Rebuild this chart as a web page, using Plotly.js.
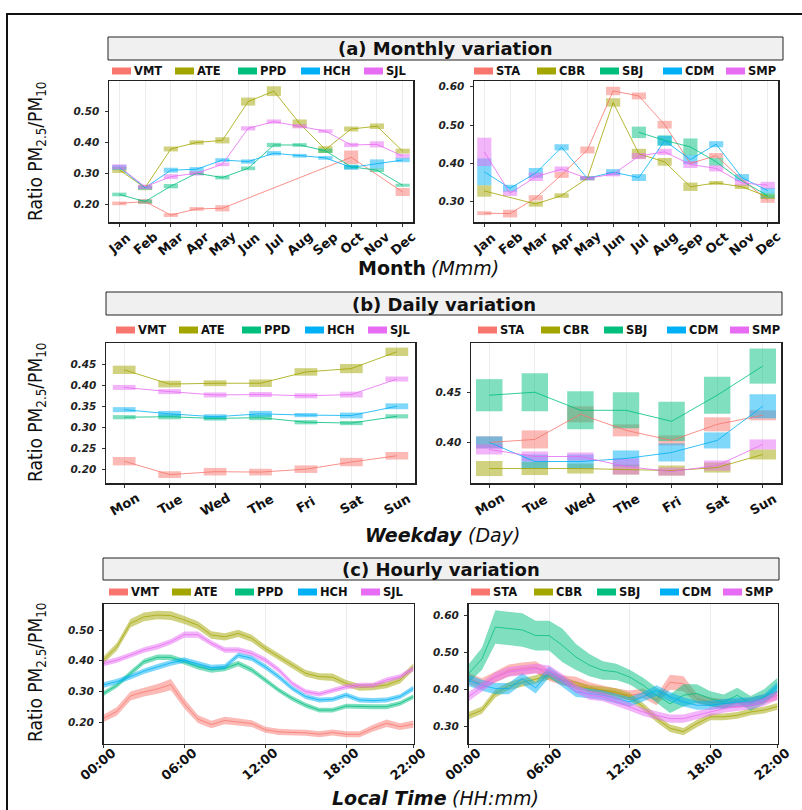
<!DOCTYPE html>
<html><head><meta charset="utf-8">
<script src="https://cdn.plot.ly/plotly-3.0.1.min.js"></script>
<style>html,body{margin:0;padding:0;background:#fff;}#chart{width:802px;height:810px;}</style>
</head><body><div id="chart"></div>
<script>
// ---------------- DATA ----------------
const months = ['Jan','Feb','Mar','Apr','May','Jun','Jul','Aug','Sep','Oct','Nov','Dec'];
const days = ['Mon','Tue','Wed','The','Fri','Sat','Sun'];
const hours = [0,1,2,3,4,5,6,7,8,9,10,11,12,13,14,15,16,17,18,19,20,21,22,23];
const hourTickVals = [0,6,12,18,23];
const hourTickText = ['00:00','06:00','12:00','18:00','22:00'];
const sitesA = ['VMT','ATE','PPD','HCH','SJL'];
const sitesB = ['STA','CBR','SBJ','CDM','SMP'];
const siteColors = ['#F8766D','#A3A500','#00BF7D','#00B0F6','#E76BF3'];

// monthly means and box half-heights
const mVMT = [0.202,0.208,0.164,0.184,0.186,null,null,null,null,0.352,null,0.239];
const eVMT = [0.006,0.008,0.006,0.006,0.010,null,null,null,null,0.022,null,0.013];
const mATE = [0.311,0.253,0.379,0.400,0.407,0.533,0.567,0.462,0.377,0.444,0.453,0.372];
const eATE = [0.010,0.008,0.008,0.007,0.010,0.013,0.016,0.013,0.011,0.008,0.009,0.008];
const mPPD = [0.231,0.208,0.258,0.300,0.286,0.316,0.392,0.392,0.373,0.321,0.310,0.261];
const ePPD = [0.006,0.006,0.007,0.006,0.006,0.006,0.007,0.006,0.007,0.007,0.006,0.005];
const mHCH = [0.319,0.253,0.310,0.313,0.343,0.338,0.365,0.357,0.350,0.319,0.330,0.343];
const eHCH = [0.008,0.006,0.008,0.007,0.006,0.007,0.007,0.006,0.006,0.008,0.015,0.007];
const mSJL = [0.321,0.256,0.289,0.300,0.329,0.446,0.468,0.453,0.437,0.392,0.394,0.356];
const eSJL = [0.008,0.007,0.008,0.007,0.006,0.007,0.007,0.007,0.006,0.007,0.010,0.007];

const mSTA = [0.270,0.269,0.310,0.370,0.435,0.589,0.576,0.501,0.400,0.420,0.358,0.304];
const eSTA = [0.005,0.010,0.007,0.008,0.009,0.011,0.009,0.010,null,0.007,null,0.007];
const mCBR = [0.328,null,0.294,0.316,0.361,0.559,0.425,0.404,0.339,0.349,0.339,0.313];
const eCBR = [0.015,null,0.007,0.006,0.005,0.011,0.013,0.010,0.011,0.005,0.006,0.006];
const mSBJ = [null,null,null,null,null,null,0.481,0.460,0.443,0.404,0.354,0.316];
const eSBJ = [null,null,null,null,null,null,0.015,0.013,0.022,0.010,null,0.007];
const mCDM = [0.378,0.335,0.375,0.442,0.361,0.377,0.363,0.459,0.410,0.450,0.363,0.329];
const eCDM = [0.035,0.009,0.013,0.008,0.005,0.008,0.009,0.013,0.012,0.008,0.009,0.007];
const mSMP = [0.430,0.322,0.365,0.385,0.361,0.372,0.419,0.430,0.397,0.387,0.349,0.343];
const eSMP = [0.037,0.007,0.011,0.007,0.005,0.006,0.008,0.008,0.009,0.008,0.007,0.009];

// daily means and box half-heights
const dVMT = [0.219,0.187,0.194,0.193,0.200,0.217,0.232];
const deVMT = [0.010,0.008,0.009,0.008,0.009,0.010,0.009];
const dATE = [0.437,0.403,0.405,0.405,0.432,0.440,0.480];
const deATE = [0.010,0.008,0.007,0.009,0.009,0.011,0.010];
const dPPD = [0.324,0.325,0.321,0.323,0.312,0.310,0.326];
const dePPD = [0.005,0.006,0.005,0.006,0.005,0.005,0.005];
const dHCH = [0.342,0.332,0.325,0.332,0.329,0.328,0.350];
const deHCH = [0.006,0.007,0.006,0.007,0.005,0.007,0.007];
const dSJL = [0.395,0.385,0.377,0.378,0.375,0.378,0.415];
const deSJL = [0.006,0.006,0.006,0.006,0.006,0.007,0.006];

const dSTA = [0.400,0.403,0.428,0.412,0.402,0.418,0.427];
const deSTA = [0.006,0.009,0.008,0.006,0.005,0.007,0.005];
const dCBR = [0.374,0.374,0.374,0.373,0.372,0.375,0.388];
const deCBR = [0.0075,0.0065,0.005,0.005,0.005,0.005,0.005];
const dSBJ = [0.447,0.450,0.432,0.432,0.421,0.447,0.476];
const deSBJ = [0.016,0.019,0.019,0.018,0.0195,0.0185,0.0175];
const dCDM = [0.400,0.381,0.381,0.384,0.390,0.402,0.436];
const deCDM = [0.006,0.007,0.007,0.008,0.009,0.008,0.012];
const dSMP = [0.393,0.386,0.386,0.376,0.371,0.377,0.398];
const deSMP = [0.005,0.005,0.004,0.008,0.004,0.005,0.005];

// hourly means and ribbon half-widths
const hVMT = [0.212,0.235,0.285,0.298,0.308,0.322,0.260,0.210,0.192,0.205,0.200,0.195,0.175,0.168,0.166,0.165,0.160,0.166,0.160,0.160,0.180,0.196,0.185,0.193];
const hwVMT = [0.012,0.014,0.015,0.015,0.016,0.018,0.016,0.013,0.012,0.012,0.011,0.011,0.010,0.010,0.010,0.010,0.010,0.010,0.010,0.010,0.011,0.012,0.011,0.012];
const hATE = [0.402,0.446,0.522,0.543,0.549,0.547,0.533,0.516,0.484,0.478,0.489,0.473,0.440,0.413,0.386,0.359,0.348,0.346,0.326,0.313,0.315,0.321,0.337,0.380];
const hwATE = [0.012,0.013,0.014,0.014,0.014,0.014,0.013,0.013,0.012,0.012,0.012,0.012,0.011,0.011,0.011,0.011,0.011,0.012,0.011,0.011,0.011,0.011,0.011,0.012];
const hPPD = [0.293,0.320,0.359,0.397,0.411,0.411,0.397,0.380,0.370,0.375,0.391,0.370,0.337,0.304,0.277,0.255,0.239,0.239,0.252,0.250,0.250,0.250,0.261,0.283];
const hwPPD = [0.008,0.008,0.009,0.009,0.009,0.009,0.009,0.009,0.009,0.009,0.009,0.009,0.008,0.008,0.008,0.008,0.008,0.008,0.008,0.008,0.008,0.008,0.008,0.008];
const hHCH = [0.321,0.332,0.348,0.366,0.380,0.393,0.402,0.391,0.378,0.380,0.418,0.408,0.380,0.348,0.310,0.283,0.272,0.274,0.288,0.272,0.270,0.272,0.283,0.310];
const hwHCH = [0.009,0.009,0.009,0.009,0.009,0.009,0.009,0.009,0.009,0.009,0.009,0.009,0.009,0.009,0.008,0.008,0.008,0.008,0.008,0.008,0.008,0.008,0.008,0.009];
const hSJL = [0.391,0.402,0.418,0.435,0.446,0.462,0.485,0.485,0.457,0.435,0.435,0.424,0.402,0.370,0.326,0.299,0.291,0.304,0.315,0.320,0.320,0.337,0.348,0.375];
const hwSJL = [0.009,0.009,0.009,0.009,0.009,0.009,0.010,0.010,0.009,0.009,0.009,0.009,0.009,0.009,0.008,0.008,0.008,0.008,0.008,0.008,0.008,0.008,0.008,0.009];

const hSTA = [0.430,0.416,0.434,0.452,0.457,0.461,0.439,0.425,0.421,0.407,0.398,0.390,0.385,0.390,0.372,0.420,0.416,0.376,0.367,0.363,0.363,0.367,0.376,0.385];
const hwSTA = [0.015,0.015,0.015,0.016,0.016,0.016,0.015,0.014,0.014,0.013,0.013,0.013,0.013,0.013,0.014,0.020,0.020,0.013,0.012,0.012,0.012,0.012,0.012,0.013];
const hCBR = [0.330,0.345,0.390,0.410,0.420,0.428,0.439,0.425,0.412,0.403,0.398,0.394,0.381,0.354,0.322,0.296,0.287,0.309,0.327,0.327,0.331,0.340,0.345,0.355];
const hwCBR = [0.010,0.010,0.011,0.011,0.011,0.011,0.011,0.011,0.010,0.010,0.010,0.010,0.010,0.010,0.010,0.010,0.010,0.010,0.009,0.009,0.009,0.009,0.009,0.009];
const hSBJ = [0.443,0.483,0.569,0.566,0.561,0.546,0.546,0.519,0.488,0.466,0.452,0.448,0.434,0.412,0.385,0.362,0.385,0.390,0.376,0.367,0.385,0.363,0.381,0.412];
const hwSBJ = [0.025,0.030,0.045,0.045,0.045,0.040,0.040,0.045,0.035,0.030,0.025,0.022,0.020,0.020,0.020,0.025,0.030,0.025,0.020,0.020,0.020,0.020,0.020,0.020];
const hCDM = [0.425,0.412,0.403,0.403,0.430,0.405,0.448,0.421,0.394,0.390,0.385,0.376,0.367,0.381,0.398,0.381,0.367,0.358,0.358,0.363,0.367,0.367,0.376,0.407];
const hwCDM = [0.015,0.015,0.015,0.015,0.015,0.015,0.015,0.014,0.014,0.013,0.013,0.013,0.013,0.013,0.014,0.013,0.012,0.012,0.012,0.012,0.012,0.012,0.012,0.014];
const hSMP = [0.381,0.407,0.434,0.448,0.452,0.457,0.452,0.430,0.403,0.385,0.381,0.367,0.354,0.340,0.331,0.322,0.322,0.331,0.340,0.349,0.354,0.358,0.367,0.385];
const hwSMP = [0.012,0.012,0.013,0.013,0.013,0.013,0.013,0.012,0.012,0.012,0.012,0.011,0.011,0.011,0.011,0.011,0.011,0.011,0.011,0.011,0.011,0.011,0.011,0.012];

const rowTitles = ['(a) Monthly variation','(b) Daily variation','(c) Hourly variation'];
const xTitleMain = ['Month','Weekday','Local Time'];
const xTitleUnit = ['(Mmm)','(Day)','(HH:mm)'];
const yTitle = 'Ratio PM<sub>2.5</sub>/PM<sub>10</sub>';

// ---------------- LAYOUT HELPERS ----------------
const W = 802, H = 810;
const X = p => p / W, Y = p => 1 - p / H;
function rgba(hex, a){const n=parseInt(hex.slice(1),16);return `rgba(${n>>16&255},${n>>8&255},${n&255},${a})`;}
const FB = 'DejaVu Sans, Liberation Sans, sans-serif';

const monthlyA = [[mVMT,eVMT],[mATE,eATE],[mPPD,ePPD],[mHCH,eHCH],[mSJL,eSJL]];
const monthlyB = [[mSTA,eSTA],[mCBR,eCBR],[mSBJ,eSBJ],[mCDM,eCDM],[mSMP,eSMP]];
const dailyA = [[dVMT,deVMT],[dATE,deATE],[dPPD,dePPD],[dHCH,deHCH],[dSJL,deSJL]];
const dailyB = [[dSTA,deSTA],[dCBR,deCBR],[dSBJ,deSBJ],[dCDM,deCDM],[dSMP,deSMP]];
const hourlyA = [[hVMT,hwVMT],[hATE,hwATE],[hPPD,hwPPD],[hHCH,hwHCH],[hSJL,hwSJL]];
const hourlyB = [[hSTA,hwSTA],[hCBR,hwCBR],[hSBJ,hwSBJ],[hCDM,hwCDM],[hSMP,hwSMP]];

const panels = [
  {kind:'cat', cats:months, data:monthlyA, names:sitesA, xd:[109,413], yd:[81,222], yr:[0.1415,0.600], yt:[0.2,0.3,0.4,0.5], xr:[-0.4,11.4], angle:-40, lab:243, bw:0.55, leg:[112,71]},
  {kind:'cat', cats:months, data:monthlyB, names:sitesB, xd:[474,778], yd:[81,222], yr:[0.247,0.615], yt:[0.3,0.4,0.5,0.6], xr:[-0.4,11.4], angle:-40, lab:243, bw:0.55, leg:[474,71]},
  {kind:'cat', cats:days, data:dailyA, names:sitesA, xd:[106,415], yd:[343,483], yr:[0.167,0.501], yt:[0.2,0.25,0.3,0.35,0.4,0.45], xr:[-0.4,6.4], angle:-30, lab:504, bw:0.5, leg:[116,330]},
  {kind:'cat', cats:days, data:dailyB, names:sitesB, xd:[471,781], yd:[343,483], yr:[0.3596,0.499], yt:[0.4,0.45], xr:[-0.4,6.4], angle:-30, lab:504, bw:0.58, leg:[478,330]},
  {kind:'hour', data:hourlyA, names:sitesA, xd:[103.5,413.5], yd:[604,743.5], yr:[0.130,0.585], yt:[0.2,0.3,0.4,0.5], xr:[0,23], angle:-40, lab:764, leg:[109,592]},
  {kind:'hour', data:hourlyB, names:sitesB, xd:[468.5,777.5], yd:[604,743.5], yr:[0.255,0.631], yt:[0.3,0.4,0.5,0.6], xr:[0,23], angle:-40, lab:764, leg:[471,592]}
];

const traces = [], annotations = [], shapes = [];
const layout = {
  width: W, height: H, margin:{l:0,r:0,t:0,b:0}, paper_bgcolor:'#fff', plot_bgcolor:'#fff',
  showlegend:false, barmode:'overlay', hovermode:false
};

panels.forEach((p, i) => {
  const n = i + 1;
  const xa = 'x' + (n === 1 ? '' : n), ya = 'y' + (n === 1 ? '' : n);
  const xk = 'xaxis' + (n === 1 ? '' : n), yk = 'yaxis' + (n === 1 ? '' : n);
  const xaxis = {
    domain:[X(p.xd[0]), X(p.xd[1])], anchor: ya, range: p.xr,
    showline:true, mirror:true, linecolor:'#222', linewidth:1.5,
    ticks:'outside', ticklen:3, tickcolor:'#333', tickwidth:1,
    showgrid:true, gridcolor:'#ececec', gridwidth:1, zeroline:false, showticklabels:false, fixedrange:true
  };
  if (p.kind === 'cat') {
    xaxis.type = 'category'; xaxis.categoryorder = 'array'; xaxis.categoryarray = p.cats;
  } else {
    xaxis.type = 'linear'; xaxis.tickmode = 'array'; xaxis.tickvals = hourTickVals;
  }
  layout[xk] = xaxis;
  layout[yk] = {
    domain:[Y(p.yd[1]), Y(p.yd[0])], anchor: xa, range: p.yr,
    showline:true, mirror:true, linecolor:'#222', linewidth:1.5,
    ticks:'outside', ticklen:3, tickcolor:'#333', tickwidth:1,
    tickmode:'array', tickvals:p.yt, tickformat:'.2f', ticklabelstandoff:3,
    tickfont:{family:FB, size:10.5, weight:'bold', style:'italic', color:'#222'},
    showgrid:false, zeroline:false, fixedrange:true
  };

  p.data.forEach((s, k) => {
    const col = siteColors[k];
    const mean = s[0], err = s[1];
    if (p.kind === 'cat') {
      traces.push({
        type:'bar', x:p.cats, xaxis:xa, yaxis:ya,
        y: err.map((e, j) => (e == null || mean[j] == null) ? null : 2 * e),
        base: err.map((e, j) => (e == null || mean[j] == null) ? null : mean[j] - e),
        width: p.bw, marker:{color:rgba(col,0.5), line:{width:0}}, hoverinfo:'skip'
      });
      traces.push({
        type:'scatter', mode:'lines', x:p.cats, y:mean, xaxis:xa, yaxis:ya,
        connectgaps:true, line:{color:rgba(col,0.8), width:1}, hoverinfo:'skip'
      });
    } else {
      const up = mean.map((m, j) => m + err[j]);
      const lo = mean.map((m, j) => m - err[j]);
      traces.push({
        type:'scatter', mode:'lines', x: hours.concat(hours.slice().reverse()),
        y: up.concat(lo.slice().reverse()), xaxis:xa, yaxis:ya,
        fill:'toself', fillcolor:rgba(col,0.5), line:{width:0}, hoverinfo:'skip'
      });
      traces.push({
        type:'scatter', mode:'lines', x:hours, y:mean, xaxis:xa, yaxis:ya,
        line:{color:rgba(col,0.75), width:1}, hoverinfo:'skip'
      });
    }
  });

  // x tick labels (centred under ticks, rotated)
  const tv = p.kind === 'cat' ? p.cats : hourTickVals;
  const tt = p.kind === 'cat' ? p.cats : hourTickText;
  tv.forEach((v, j) => {
    annotations.push({
      x: v, xref: xa, y: Y(p.lab), yref:'paper', text: tt[j], showarrow:false,
      textangle: p.angle, xanchor:'center', yanchor:'middle', xshift: p.kind === 'hour' ? -6 : 0,
      font:{family:FB, size:13, weight:'bold', color:'#111'}
    });
  });

  // legend keys
  p.names.forEach((nm, k) => {
    const x0 = p.leg[0] + k * 63, yc = p.leg[1];
    shapes.push({type:'rect', xref:'paper', yref:'paper', x0:X(x0), x1:X(x0+19), y0:Y(yc+3.5), y1:Y(yc-3.5),
      fillcolor:siteColors[k], line:{width:0}});
    annotations.push({x:X(x0+20), y:Y(yc), xref:'paper', yref:'paper', text:nm, showarrow:false,
      xanchor:'left', yanchor:'middle', font:{family:FB, size:11.5, weight:'bold', color:'#111'}});
  });
});

// strips, axis titles, y titles
const strips = [[108,783,37,60],[106,782,292,315],[103,779,558,580]];
const xTitleY = [268, 535, 798];
const xTitleSplit = [428, 465, 449];
const mainStyle = ['normal','italic','italic'];
const yTitleC = [152, 413, 673];
strips.forEach((s, r) => {
  shapes.push({type:'rect', xref:'paper', yref:'paper', x0:X(s[0]), x1:X(s[1]), y0:Y(s[3]), y1:Y(s[2]),
    fillcolor:'#f0f0f0', line:{color:'#222', width:1}});
  annotations.push({x:X((s[0]+s[1])/2), y:Y((s[2]+s[3])/2 + 0.5), xref:'paper', yref:'paper', text:rowTitles[r],
    showarrow:false, xanchor:'center', yanchor:'middle', font:{family:FB, size:18, weight:'bold', color:'#111'}});
  annotations.push({x:X(xTitleSplit[r]), y:Y(xTitleY[r]), xref:'paper', yref:'paper', text:xTitleMain[r],
    showarrow:false, xanchor:'right', yanchor:'middle', font:{family:FB, size:19, weight:'bold', style:mainStyle[r], color:'#111'}});
  annotations.push({x:X(xTitleSplit[r] + 1), y:Y(xTitleY[r]), xref:'paper', yref:'paper', text:xTitleUnit[r],
    showarrow:false, xanchor:'left', yanchor:'middle', font:{family:FB, size:19, style:'italic', color:'#111'}});
  annotations.push({x:X(36), y:Y(yTitleC[r]), xref:'paper', yref:'paper', text:yTitle, textangle:-90,
    showarrow:false, xanchor:'center', yanchor:'middle',
    font:{family:'Liberation Sans Narrow, DejaVu Sans Condensed, Liberation Sans, sans-serif', size:19, color:'#111'}});
});

// outer frame
shapes.push({type:'rect', xref:'paper', yref:'paper', x0:X(7), x1:X(830), y0:Y(840), y1:Y(14),
  fillcolor:'rgba(0,0,0,0)', line:{color:'#111', width:2}});

layout.annotations = annotations;
layout.shapes = shapes;
Plotly.newPlot('chart', traces, layout, {staticPlot:true, displayModeBar:false});
</script>
</body></html>
